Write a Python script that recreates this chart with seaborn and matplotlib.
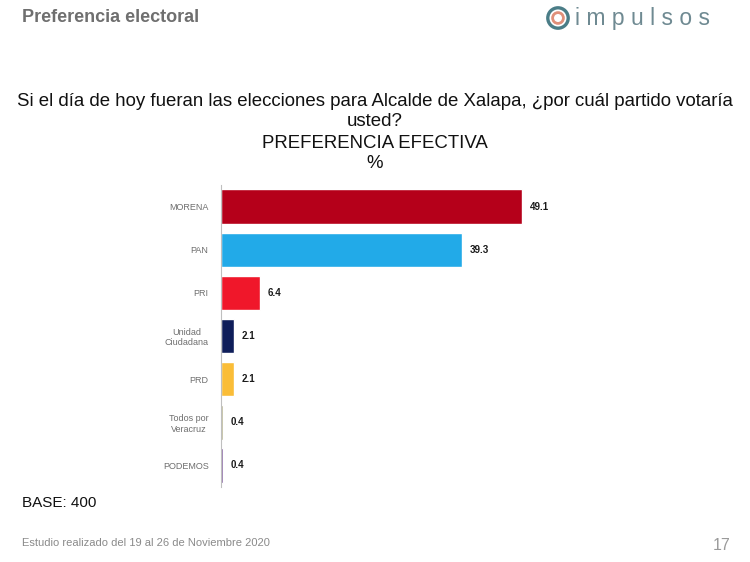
import matplotlib
matplotlib.use("Agg")
import matplotlib.pyplot as plt
import seaborn as sns
import pandas as pd
from matplotlib.patches import Circle

# Data
parties = ["MORENA", "PAN", "PRI", "Unidad\nCiudadana", "PRD", "Todos por\nVeracruz", "PODEMOS"]
values = [49.1, 39.3, 6.4, 2.1, 2.1, 0.4, 0.4]
bar_colors = ["#B5001A", "#22AAE8", "#F0172A", "#0F1E5A", "#FABD38", "#A9A57A", "#6A3F8C"]

df = pd.DataFrame({"party": parties, "value": values})

sns.set_style("white")
plt.rcParams["font.family"] = ["Liberation Sans", "DejaVu Sans"]

fig = plt.figure(figsize=(7.5, 5.62), dpi=100)
ax = fig.add_axes([0.2947, 0.1335, 0.573, 0.537])

sns.barplot(data=df, y="party", x="value", hue="party", palette=bar_colors,
            legend=False, width=0.8, saturation=1, ax=ax, orient="h")

ax.set_xlim(0, 70)
ax.set_xlabel("")
ax.set_ylabel("")
ax.set_xticks([])
for side in ["top", "right", "bottom"]:
    ax.spines[side].set_visible(False)
ax.spines["left"].set_color("#BFBFBF")
ax.spines["left"].set_linewidth(0.8)
ax.tick_params(axis="y", length=0, labelsize=6.5, labelcolor="#6E6E6E", pad=9)
for lbl in ax.get_yticklabels():
    lbl.set_horizontalalignment("right")
    lbl.set_multialignment("center")

for i, v in enumerate(values):
    ax.text(v + 1.2, i, f"{v}", va="center", ha="left", fontsize=7,
            fontweight="bold", color="#1A1A1A")

# Header
fig.text(22 / 750, 1 - 18 / 562, "Preferencia electoral", fontsize=13,
         fontweight="bold", color="#6F6F6F", va="center", ha="left")

# Logo
ax_logo = fig.add_axes([546 / 750, 1 - 30 / 562, 24 / 750, 24 / 562])
ax_logo.set_xlim(-1, 1)
ax_logo.set_ylim(-1, 1)
ax_logo.set_aspect("equal")
ax_logo.axis("off")
ax_logo.add_patch(Circle((0, 0), 0.85, fill=False, lw=2.4, color="#4A7D87"))
ax_logo.add_patch(Circle((0, 0), 0.45, fill=False, lw=2.0, color="#E0907A"))
fig.text(575 / 750, 1 - 19 / 562, "i m p u l s o s", fontsize=16.5,
         color="#6F8A92", va="center", ha="left")

# Question title
title_size = 13.4
fig.text(0.5, 1 - 102 / 562,
         "Si el día de hoy fueran las elecciones para Alcalde de Xalapa, ¿por cuál partido votaría",
         fontsize=title_size, color="#111111", ha="center", va="center")
fig.text(0.5, 1 - 122 / 562, "usted?", fontsize=title_size, color="#111111",
         ha="center", va="center")
fig.text(0.5, 1 - 143 / 562, "PREFERENCIA EFECTIVA", fontsize=title_size,
         color="#111111", ha="center", va="center")
fig.text(0.5, 1 - 164 / 562, "%", fontsize=title_size, color="#111111",
         ha="center", va="center")

# Footer
fig.text(22 / 750, 1 - 503 / 562, "BASE: 400", fontsize=11, color="#111111",
         ha="left", va="center")
fig.text(22 / 750, 1 - 543 / 562, "Estudio realizado del 19 al 26 de Noviembre 2020",
         fontsize=8, color="#8A8A8A", ha="left", va="center")
fig.text(730 / 750, 1 - 545 / 562, "17", fontsize=11.5, color="#9A9A9A",
         ha="right", va="center")

fig.savefig("out.png", dpi=100, facecolor="white")
